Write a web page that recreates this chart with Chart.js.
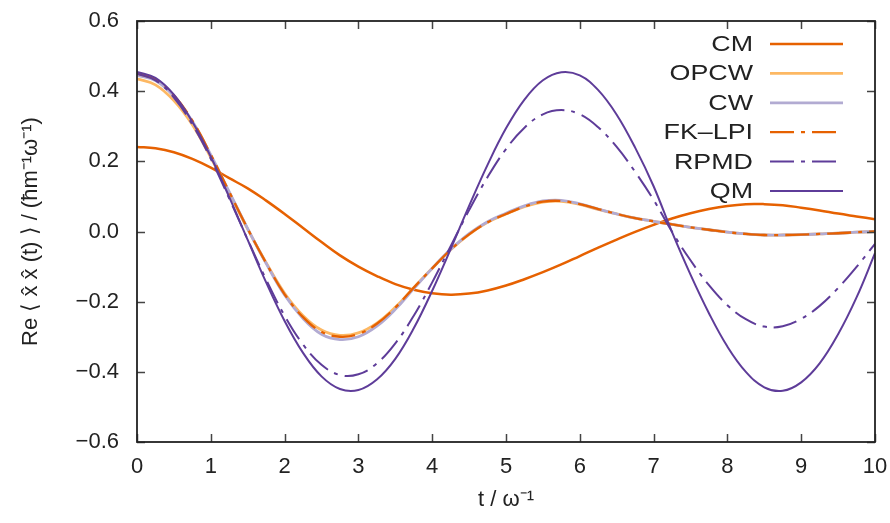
<!DOCTYPE html>
<html>
<head>
<meta charset="utf-8">
<title>Position autocorrelation</title>
<script src="https://cdn.jsdelivr.net/npm/chart.js@4/dist/chart.umd.min.js"></script>
<style>
  html, body { margin: 0; padding: 0; background: #fff; }
  canvas { display: block; }
</style>
</head>
<body>
<canvas id="chart" width="890" height="523"></canvas>
<script>
// time grid, in units of 1/omega
const tValues = [
  0, 0.25, 0.5, 0.75, 1, 1.25, 1.5, 1.75, 2, 2.25, 2.5, 2.75, 3, 3.25, 3.5, 3.75,
  4, 4.25, 4.5, 4.75, 5, 5.25, 5.5, 5.75, 6, 6.25, 6.5, 6.75, 7, 7.25, 7.5, 7.75,
  8, 8.25, 8.5, 8.75, 9, 9.25, 9.5, 9.75, 10
];

// classical (CM)
const cmValues = [
  0.241, 0.237, 0.226, 0.207, 0.182, 0.152, 0.123, 0.088, 0.050, 0.010, -0.030, -0.068,
  -0.100, -0.127, -0.150, -0.166, -0.176, -0.180, -0.177, -0.168, -0.154, -0.136, -0.116, -0.094,
  -0.070, -0.046, -0.023, -0.001, 0.019, 0.037, 0.052, 0.064, 0.073, 0.078, 0.078, 0.075,
  0.068, 0.060, 0.051, 0.043, 0.035
];

const opcwValues = [
  0.435, 0.418, 0.373, 0.304, 0.211, 0.110, 0.007, -0.089, -0.176, -0.240, -0.281, -0.296,
  -0.289, -0.261, -0.216, -0.160, -0.105, -0.052, -0.008, 0.026, 0.050, 0.071, 0.084, 0.086,
  0.077, 0.063, 0.050, 0.038, 0.029, 0.020, 0.012, 0.005, -0.002, -0.007, -0.010, -0.010,
  -0.009, -0.007, -0.005, -0.002, 0.000
];

const cwValues = [
  0.445, 0.430, 0.385, 0.314, 0.218, 0.113, 0.008, -0.091, -0.181, -0.248, -0.293, -0.308,
  -0.300, -0.270, -0.222, -0.163, -0.105, -0.051, -0.006, 0.028, 0.052, 0.073, 0.087, 0.089,
  0.079, 0.064, 0.050, 0.038, 0.029, 0.020, 0.012, 0.005, -0.002, -0.007, -0.010, -0.010,
  -0.009, -0.007, -0.005, -0.002, 0.000
];

const fklpiValues = [
  0.450, 0.434, 0.388, 0.316, 0.219, 0.113, 0.008, -0.090, -0.179, -0.244, -0.286, -0.300,
  -0.292, -0.263, -0.217, -0.160, -0.105, -0.052, -0.008, 0.026, 0.050, 0.071, 0.085, 0.087,
  0.078, 0.064, 0.050, 0.038, 0.029, 0.020, 0.012, 0.005, -0.002, -0.007, -0.010, -0.010,
  -0.009, -0.007, -0.005, -0.002, 0.000
];

const rpmdValues = [
  0.450, 0.431, 0.382, 0.305, 0.207, 0.094, -0.023, -0.137, -0.240, -0.322, -0.380, -0.409,
  -0.407, -0.376, -0.319, -0.240, -0.145, -0.042, 0.061, 0.155, 0.235, 0.296, 0.334, 0.346,
  0.334, 0.297, 0.241, 0.170, 0.090, -0.001, -0.082, -0.153, -0.210, -0.250, -0.271, -0.270,
  -0.249, -0.212, -0.161, -0.101, -0.035
];

// exact quantum result (QM)
const qmValues = [
  0.455, 0.438, 0.390, 0.313, 0.213, 0.098, -0.024, -0.145, -0.255, -0.346, -0.413, -0.449,
  -0.452, -0.422, -0.363, -0.276, -0.169, -0.050, 0.073, 0.190, 0.294, 0.376, 0.431, 0.454,
  0.445, 0.403, 0.333, 0.239, 0.129, -0.002, -0.123, -0.233, -0.328, -0.400, -0.444, -0.454,
  -0.430, -0.376, -0.293, -0.188, -0.062
];

const seriesNames = ['CM', 'OPCW', 'CW', 'FK\u2013LPI', 'RPMD', 'QM'];
const xTicks = [0, 1, 2, 3, 4, 5, 6, 7, 8, 9, 10];
const yTicks = [-0.6, -0.4, -0.2, 0, 0.2, 0.4, 0.6];
const yTickLabels = ['\u22120.6', '\u22120.4', '\u22120.2', '0.0', '0.2', '0.4', '0.6'];

const ORANGE = '#e66101';
const LIGHT_ORANGE = '#fdb863';
const LIGHT_PURPLE = '#b2abd2';
const PURPLE = '#5e3c99';
const DASH_DOT = [24, 7, 4, 7];
const FONT = 'Liberation Sans, Arial, Helvetica, sans-serif';
const INK = '#222';

const toPoints = ys => ys.map((y, i) => ({ x: tValues[i], y }));

function makeSet(label, values, color, width, dash, order) {
  return {
    label,
    data: toPoints(values),
    borderColor: color,
    borderWidth: width,
    borderDash: dash,
    pointRadius: 0,
    tension: 0.4,
    fill: false,
    order,
    clip: 0
  };
}

// gnuplot-like frame with inward ticks on all four sides
const framePlugin = {
  id: 'frame',
  afterDatasetsDraw(chart) {
    const { ctx, chartArea: a, scales } = chart;
    const len = 8;
    ctx.save();
    ctx.strokeStyle = '#444';
    ctx.lineWidth = 1.5;
    ctx.beginPath();
    xTicks.forEach(v => {
      const x = Math.round(scales.x.getPixelForValue(v)) + 0.5;
      ctx.moveTo(x, a.bottom); ctx.lineTo(x, a.bottom - len);
      ctx.moveTo(x, a.top); ctx.lineTo(x, a.top + len);
    });
    yTicks.forEach(v => {
      const y = Math.round(scales.y.getPixelForValue(v)) + 0.5;
      ctx.moveTo(a.left, y); ctx.lineTo(a.left + len, y);
      ctx.moveTo(a.right, y); ctx.lineTo(a.right - len, y);
    });
    ctx.stroke();
    ctx.strokeStyle = INK;
    ctx.lineWidth = 1.8;
    ctx.strokeRect(a.left, a.top, a.right - a.left, a.bottom - a.top);
    ctx.restore();
  }
};

// key in the upper right: right-aligned titles followed by line samples
const keyPlugin = {
  id: 'key',
  afterDraw(chart) {
    const { ctx } = chart;
    const textRight = 753, lineStart = 770, lineEnd = 843;
    const firstRow = 44, rowStep = 29.4;
    ctx.save();
    ctx.font = '22px ' + FONT;
    ctx.textAlign = 'right';
    ctx.textBaseline = 'middle';
    chart.data.datasets.forEach((ds, i) => {
      const y = firstRow + i * rowStep;
      ctx.save();
      ctx.translate(textRight, y + 1);
      ctx.scale(1.22, 1);
      ctx.fillStyle = INK;
      ctx.fillText(ds.label, 0, 0);
      ctx.restore();
      ctx.strokeStyle = ds.borderColor;
      ctx.lineWidth = ds.borderWidth;
      ctx.setLineDash(ds.borderDash || []);
      ctx.beginPath();
      ctx.moveTo(lineStart, y);
      ctx.lineTo(lineEnd, y);
      ctx.stroke();
    });
    ctx.restore();
  }
};

new Chart(document.getElementById('chart'), {
  type: 'line',
  data: {
    datasets: [
      makeSet(seriesNames[0], cmValues, ORANGE, 2.5, [], 6),
      makeSet(seriesNames[1], opcwValues, LIGHT_ORANGE, 2.8, [], 5),
      makeSet(seriesNames[2], cwValues, LIGHT_PURPLE, 2.8, [], 4),
      makeSet(seriesNames[3], fklpiValues, ORANGE, 2.3, DASH_DOT, 3),
      makeSet(seriesNames[4], rpmdValues, PURPLE, 2, DASH_DOT, 2),
      makeSet(seriesNames[5], qmValues, PURPLE, 2, [], 1)
    ]
  },
  options: {
    responsive: false,
    animation: false,
    devicePixelRatio: 1,
    layout: { padding: { top: 21, right: 15, left: 0, bottom: 0 } },
    plugins: {
      legend: { display: false },
      tooltip: { enabled: false }
    },
    scales: {
      x: {
        type: 'linear',
        min: 0,
        max: 10,
        afterFit: s => { s.height = 81; },
        afterBuildTicks: s => { s.ticks = xTicks.map(v => ({ value: v })); },
        grid: { display: false, drawTicks: true, tickLength: 10 },
        border: { display: false },
        ticks: {
          color: INK,
          padding: 2,
          maxRotation: 0,
          font: { family: FONT, size: 22 },
          callback: v => String(v)
        },
        title: {
          display: true,
          text: 't / \u03c9\u207b\u00b9',
          color: INK,
          font: { family: FONT, size: 22 },
          padding: { top: 0, bottom: 10 }
        }
      },
      y: {
        type: 'linear',
        min: -0.6,
        max: 0.6,
        afterFit: s => { s.width = 137; },
        afterBuildTicks: s => { s.ticks = yTicks.map(v => ({ value: v })); },
        grid: { display: false, drawTicks: true, tickLength: 16 },
        border: { display: false },
        ticks: {
          color: INK,
          padding: 2,
          font: { family: FONT, size: 22 },
          callback: v => yTickLabels[yTicks.findIndex(t => Math.abs(t - v) < 1e-9)]
        },
        title: {
          display: true,
          text: 'Re \u27e8 x\u0302 x\u0302 (t) \u27e9 / (\u0127m\u207b\u00b9\u03c9\u207b\u00b9)',
          color: INK,
          font: { family: FONT, size: 22 },
          padding: { top: 18, bottom: 0 }
        }
      }
    }
  },
  plugins: [framePlugin, keyPlugin]
});
</script>
</body>
</html>
